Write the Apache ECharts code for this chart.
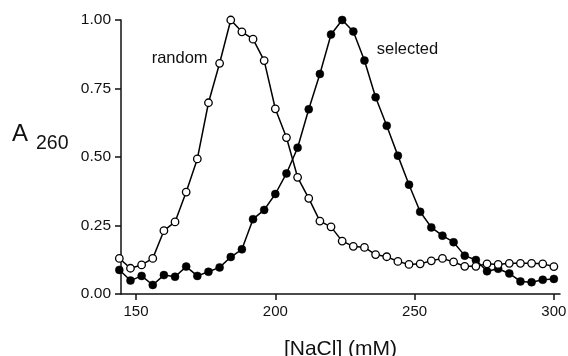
<!DOCTYPE html>
<html>
<head>
<meta charset="utf-8">
<script src="https://cdn.jsdelivr.net/npm/echarts@6/dist/echarts.min.js"></script>
<style>
html,body{margin:0;padding:0;background:#fff;}
#c{width:568px;height:356px;}
</style>
</head>
<body>
<div id="c"></div>
<script>
// NaCl concentration (mM) of each fraction
var nacl = [144,148,152,156,160,164,168,172,176,180,184,188,192,196,200,204,208,212,216,220,
            224,228,232,236,240,244,248,252,256,260,264,268,272,276,280,284,288,292,296,300];
// A260 (normalized), random pool (open circles)
var randomA = [0.130,0.094,0.106,0.130,0.231,0.263,0.372,0.493,0.698,0.842,1.000,0.957,0.930,0.852,0.676,0.571,0.426,0.349,0.266,0.245,
               0.193,0.174,0.170,0.144,0.136,0.119,0.108,0.110,0.121,0.130,0.117,0.101,0.101,0.110,0.108,0.112,0.112,0.112,0.110,0.100];
// A260 (normalized), selected pool (filled circles)
var selectedA = [0.088,0.049,0.066,0.033,0.069,0.063,0.100,0.066,0.081,0.097,0.135,0.163,0.273,0.307,0.365,0.440,0.534,0.674,0.803,0.947,
                 1.000,0.958,0.852,0.718,0.614,0.505,0.399,0.300,0.243,0.213,0.189,0.140,0.124,0.083,0.092,0.075,0.046,0.043,0.052,0.055];
var xTicks = [150,200,250,300];
var yTicks = [0,0.25,0.5,0.75,1];
var xName = '[NaCl] (mM)';
var yNameMain = 'A';
var yNameSub = '260';
// annotation anchors in data space: [x, y]
var randomLabelAt = [155.6, 0.859];
var selectedLabelAt = [236.4, 0.893];

function pairs(xs, ys){ return xs.map(function(x,i){ return [x, ys[i]]; }); }

var FONT = '"Liberation Sans", Arial, Helvetica, sans-serif';
var chart = echarts.init(document.getElementById('c'), null, {renderer:'canvas'});
var option = {
  animation:false,
  backgroundColor:'#ffffff',
  grid:{left:121, right:8, top:20, bottom:62, containLabel:false, outerBoundsMode:'none'},
  xAxis:{
    type:'value', min:144.6, max:302.2,
    name:xName, nameLocation:'middle', nameGap:45,
    nameTextStyle:{fontFamily:FONT, fontSize:21, color:'#111'},
    axisLine:{lineStyle:{color:'#111', width:1.5}},
    axisTick:{show:true, length:6, inside:false, customValues:xTicks, lineStyle:{color:'#111', width:1.5}},
    axisLabel:{customValues:xTicks, fontFamily:FONT, fontSize:15, color:'#111', margin:10},
    splitLine:{show:false}
  },
  yAxis:{
    type:'value', min:0, max:1, interval:0.25,
    axisLine:{show:true, lineStyle:{color:'#111', width:1.5}},
    axisTick:{show:true, length:6, lineStyle:{color:'#111', width:1.5}},
    axisLabel:{fontFamily:FONT, fontSize:15.5, color:'#111', margin:10,
      formatter:function(v){ return v.toFixed(2); }},
    splitLine:{show:false}
  },
  series:[
    {
      name:'selected', type:'line', data:pairs(nacl, selectedA), clip:false,
      symbol:'circle', symbolSize:8,
      lineStyle:{color:'#000', width:1.5},
      itemStyle:{color:'#000', borderColor:'#000', borderWidth:0.5},
      z:2
    },
    {
      name:'random', type:'line', data:pairs(nacl, randomA), clip:false,
      symbol:'circle', symbolSize:7.5,
      lineStyle:{color:'#000', width:1.5},
      itemStyle:{color:'#fff', borderColor:'#000', borderWidth:1.3},
      z:3
    }
  ]
};
chart.setOption(option);

var pr = chart.convertToPixel({gridIndex:0}, randomLabelAt);
var ps = chart.convertToPixel({gridIndex:0}, selectedLabelAt);
chart.setOption({
  graphic:[
    {type:'text', x:pr[0], y:pr[1], style:{text:'random', font:'16.5px '+FONT, fill:'#111', align:'left', verticalAlign:'middle'}},
    {type:'text', x:ps[0], y:ps[1], style:{text:'selected', font:'16.5px '+FONT, fill:'#111', align:'left', verticalAlign:'middle'}},
    {type:'text', left:12, top:122, style:{text:yNameMain, font:'24px '+FONT, fill:'#111'}},
    {type:'text', left:36, top:134, style:{text:yNameSub, font:'19.5px '+FONT, fill:'#111'}}
  ]
});
</script>
</body>
</html>
